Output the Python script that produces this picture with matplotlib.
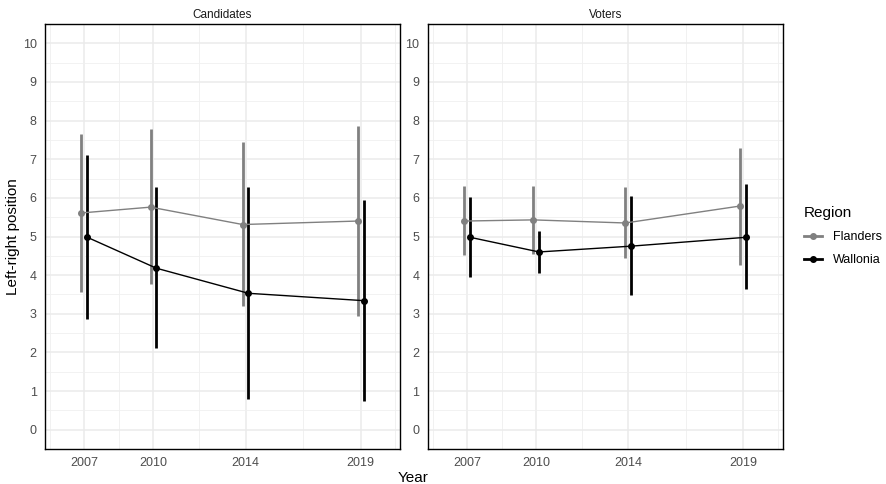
import numpy as np
import matplotlib
matplotlib.use("Agg")
import matplotlib.pyplot as plt
from matplotlib.lines import Line2D

plt.rcParams['font.family'] = ['Liberation Sans', 'DejaVu Sans']

years = [2007, 2010, 2014, 2019]
regions = ["Flanders", "Wallonia"]
colors = {"Flanders": "#808080", "Wallonia": "#000000"}

# Candidates panel
cand_mean = {"Flanders": [5.61, 5.76, 5.31, 5.40],
             "Wallonia": [4.98, 4.18, 3.53, 3.34]}
cand_low = {"Flanders": [3.57, 3.76, 3.21, 2.95],
            "Wallonia": [2.87, 2.12, 0.80, 0.74]}
cand_high = {"Flanders": [7.65, 7.78, 7.45, 7.87],
             "Wallonia": [7.12, 6.28, 6.28, 5.95]}

# Voters panel
vot_mean = {"Flanders": [5.40, 5.43, 5.35, 5.79],
            "Wallonia": [4.98, 4.60, 4.75, 4.98]}
vot_low = {"Flanders": [4.53, 4.55, 4.44, 4.27],
           "Wallonia": [3.96, 4.06, 3.48, 3.63]}
vot_high = {"Flanders": [6.31, 6.31, 6.28, 7.29],
            "Wallonia": [6.02, 5.14, 6.05, 6.36]}

panels = [("Candidates", cand_mean, cand_low, cand_high),
          ("Voters", vot_mean, vot_low, vot_high)]

dodge = {"Flanders": -0.125, "Wallonia": 0.125}

fig = plt.figure(figsize=(8.86, 4.84), dpi=100)
ax1 = fig.add_axes([45/886, 1-449/484, 355/886, 425/484])
ax2 = fig.add_axes([427.7/886, 1-449/484, 355/886, 425/484])

for ax, (title, mean, low, high) in zip([ax1, ax2], panels):
    for g in [2005.5, 2008.5, 2012, 2016.5, 2020.5]:
        ax.axvline(g, color="#EFEFEF", lw=0.6, zorder=0)
    for g in years:
        ax.axvline(g, color="#EBEBEB", lw=1.1, zorder=0)
    for v in np.arange(-0.5, 10.51, 0.5):
        major = abs(v - round(v)) < 1e-9
        ax.axhline(v, color="#EBEBEB" if major else "#F0F0F0",
                   lw=1.1 if major else 0.6, zorder=0)
    for r in regions:
        x = np.array(years) + dodge[r]
        ax.vlines(x, low[r], high[r], color=colors[r], lw=2.0, zorder=2)
        ax.plot(x, mean[r], color=colors[r], lw=1.0, marker="o", ms=4, zorder=3)
    ax.set_xlim(2005.29, 2020.71)
    ax.set_ylim(-0.5, 10.5)
    ax.set_xticks(years)
    ax.set_yticks(range(0, 11))
    ax.tick_params(length=0, labelsize=9, colors="#4D4D4D", pad=6)
    for s in ax.spines.values():
        s.set_color("black")
        s.set_linewidth(1.0)
    ax.set_title(title, fontsize=8.5, color="#1A1A1A", pad=4)

ax1.set_ylabel("Left-right position", fontsize=11)
ax1.yaxis.set_label_coords(-0.07, 0.5)
fig.text(413/886, 1-478/484, "Year", ha="center", va="center", fontsize=11)

handles = [Line2D([0], [0], color=colors[r], lw=2, marker="o", ms=4) for r in regions]
leg = fig.legend(handles, regions, title="Region", loc="center left",
                 bbox_to_anchor=(804/886, 1-236/484), frameon=False,
                 fontsize=9, title_fontsize=11, handlelength=1.4,
                 handletextpad=0.9, labelspacing=0.9,
                 borderpad=0, borderaxespad=0)
leg._legend_box.align = "left"

fig.savefig("out.png", dpi=100)
